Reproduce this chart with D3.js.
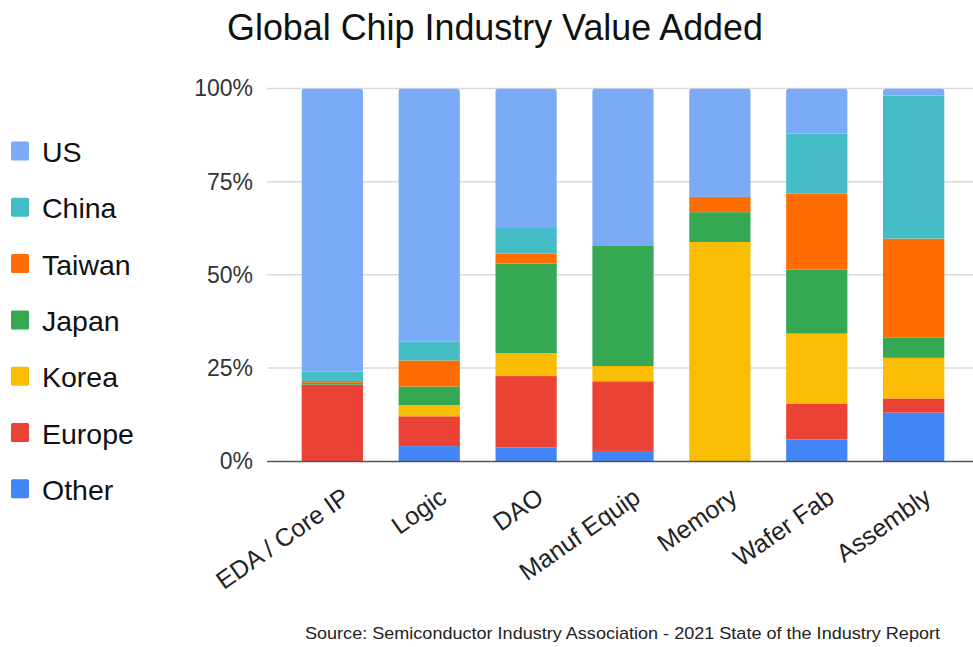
<!DOCTYPE html>
<html><head><meta charset="utf-8">
<script src="https://cdn.jsdelivr.net/npm/d3@7"></script>
<style>body{margin:0;background:#fff;font-family:"Liberation Sans",Arial,sans-serif;}</style>
</head><body>
<svg id="chart" width="973" height="647"></svg>
<script>
const categories = ["EDA / Core IP","Logic","DAO","Manuf Equip","Memory","Wafer Fab","Assembly"];
const seriesNames = ["Other","Europe","Korea","Japan","Taiwan","China","US"];
const seriesColors = ["#4285F4","#EA4335","#FBBC04","#34A853","#FF6D01","#46BDC6","#7BAAF7"];
const Other  = [0,   4,  3.6, 2.7, 0,    5.8, 13];
const Europe = [20.5,8, 19.2,18.7, 0,    9.5, 3.8];
const Korea  = [0,   3,  6.2, 4.1, 58.8,18.9,10.9];
const Japan  = [0.5, 5, 24,  32.4, 8,   17.2, 5.4];
const Taiwan = [0.5, 7,  2.7, 0,   4.1, 20.4,26.6];
const China  = [2.5, 5,  7.1, 0,   0,   16.1,38.4];
const US     = [76, 68, 37.2,42.1, 29.1,12.1, 1.9];
const yTicks = [0,25,50,75,100];
const legendOrder = ["US","China","Taiwan","Japan","Korea","Europe","Other"];
const title = "Global Chip Industry Value Added";
const source = "Source: Semiconductor Industry Association - 2021 State of the Industry Report";

const seriesData = [Other,Europe,Korea,Japan,Taiwan,China,US];
const rows = categories.map((c,i)=>{const r={cat:c}; seriesNames.forEach((s,j)=>r[s]=seriesData[j][i]); return r;});
const stacked = d3.stack().keys(seriesNames).offset(d3.stackOffsetExpand)(rows);
const color = d3.scaleOrdinal().domain(seriesNames).range(seriesColors);

const svg = d3.select("#chart");
const x = d3.scaleBand().domain(categories).range([284,962]).paddingInner(0.365).paddingOuter(0.18);
const y = d3.scaleLinear().domain([0,1]).range([461,88.5]);

svg.append("text").attr("x",495).attr("y",40).attr("text-anchor","middle")
  .attr("font-size",36).attr("fill","#111").attr("textLength",536).attr("lengthAdjust","spacingAndGlyphs").text(title);

// gridlines
const yAxis = d3.axisLeft(y).tickValues(yTicks.map(v=>v/100)).tickFormat(d=>Math.round(d*100)+"%").tickSize(0).tickPadding(14);
const gy = svg.append("g").attr("transform","translate(267,0)").call(yAxis);
gy.select(".domain").remove();
gy.selectAll("text").attr("font-size",23).attr("fill","#333").attr("font-family","Liberation Sans, Arial, sans-serif");
svg.append("g").selectAll("line").data(yTicks.filter(v=>v>0)).join("line")
  .attr("x1",267).attr("x2",973).attr("y1",d=>y(d/100)).attr("y2",d=>y(d/100))
  .attr("stroke","#d9d9d9").attr("stroke-width",1.5);

// clip paths for rounded tops
const defs = svg.append("defs");
categories.forEach((c,i)=>{
  defs.append("clipPath").attr("id","clip"+i).append("rect")
    .attr("x",x(c)).attr("y",y(1)).attr("width",x.bandwidth()).attr("height",y(0)-y(1)+10).attr("rx",3.5);
});
const bars = svg.append("g");
categories.forEach((c,i)=>{
  const g = bars.append("g").attr("clip-path",`url(#clip${i})`);
  stacked.forEach(layer=>{
    const d = layer[i];
    if (d[1]-d[0] <= 0) return;
    g.append("rect").attr("x",x(c)).attr("width",x.bandwidth())
      .attr("y",y(d[1])).attr("height",y(d[0])-y(d[1]))
      .attr("fill",color(layer.key));
  });
});
// baseline
svg.append("line").attr("x1",267).attr("x2",973).attr("y1",y(0)+0.5).attr("y2",y(0)+0.5)
  .attr("stroke","#555").attr("stroke-width",1.5);

// x labels
const xAxis = d3.axisBottom(x).tickSize(0).tickPadding(0);
const gx = svg.append("g").attr("transform",`translate(0,${y(0)})`).call(xAxis);
gx.select(".domain").remove();
gx.selectAll("text").attr("font-size",25).attr("fill","#222").attr("font-family","Liberation Sans, Arial, sans-serif")
  .attr("text-anchor","end").attr("dy",0).attr("y",0)
  .attr("transform","translate(19,40) rotate(-35)");

// legend
const lg = svg.append("g");
legendOrder.forEach((n,i)=>{
  const yy = 151 + i*56.3;
  lg.append("rect").attr("x",11).attr("y",yy-9.5).attr("width",18).attr("height",19).attr("rx",1.5).attr("fill",color(n));
  lg.append("text").attr("x",42).attr("y",yy+11).attr("font-size",28.5).attr("fill","#111").text(n);
});

svg.append("text").attr("x",940).attr("y",639).attr("text-anchor","end").attr("font-size",17)
  .attr("fill","#222").attr("textLength",635).attr("lengthAdjust","spacingAndGlyphs").text(source);
</script>
</body></html>
